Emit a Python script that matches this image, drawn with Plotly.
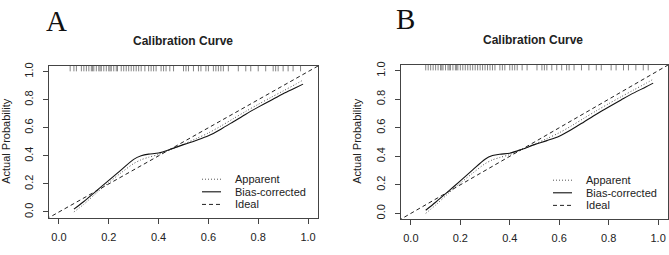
import plotly.graph_objects as go

# ---------------- data ----------------
grid_x = [0.06, 0.10, 0.15, 0.20, 0.25, 0.30, 0.33, 0.36, 0.40, 0.45, 0.50,
          0.55, 0.60, 0.65, 0.70, 0.75, 0.80, 0.85, 0.90, 0.95, 0.98]

apparent_A = [0.000, 0.055, 0.135, 0.210, 0.280, 0.345, 0.372, 0.390, 0.410, 0.445, 0.483,
              0.522, 0.563, 0.612, 0.665, 0.717, 0.767, 0.815, 0.862, 0.910, 0.940]
bias_A = [0.020, 0.075, 0.150, 0.225, 0.300, 0.375, 0.400, 0.412, 0.420, 0.448, 0.480,
          0.510, 0.543, 0.590, 0.643, 0.697, 0.747, 0.795, 0.843, 0.885, 0.911]

apparent_B = [0.000, 0.058, 0.138, 0.212, 0.282, 0.348, 0.375, 0.392, 0.412, 0.447, 0.485,
              0.524, 0.565, 0.614, 0.667, 0.719, 0.769, 0.817, 0.864, 0.911, 0.940]
bias_B = [0.022, 0.078, 0.152, 0.228, 0.305, 0.380, 0.405, 0.415, 0.422, 0.450, 0.482,
          0.510, 0.541, 0.588, 0.641, 0.695, 0.746, 0.795, 0.843, 0.886, 0.913]

ideal_x = [-0.1, 1.1]
ideal_y = [-0.1, 1.1]

rug_A = [0.045, 0.06, 0.07, 0.09, 0.10, 0.11, 0.12, 0.13, 0.135, 0.14, 0.15, 0.16, 0.165,
         0.17, 0.18, 0.19, 0.20, 0.205, 0.21, 0.22, 0.23, 0.235, 0.25, 0.26, 0.27, 0.28,
         0.29, 0.30, 0.31, 0.32, 0.33, 0.345, 0.36, 0.37, 0.38, 0.39, 0.41, 0.42, 0.43,
         0.445, 0.46, 0.50, 0.51, 0.52, 0.54, 0.56, 0.57, 0.59, 0.60, 0.62, 0.63, 0.64,
         0.65, 0.66, 0.68, 0.72, 0.75, 0.77, 0.80, 0.83, 0.86, 0.87, 0.88, 0.90, 0.92,
         0.94, 0.97]
rug_B = [0.06, 0.07, 0.08, 0.09, 0.10, 0.11, 0.12, 0.125, 0.13, 0.14, 0.15, 0.155, 0.16,
         0.17, 0.18, 0.185, 0.19, 0.20, 0.21, 0.22, 0.23, 0.24, 0.25, 0.26, 0.27, 0.28,
         0.29, 0.30, 0.31, 0.32, 0.33, 0.34, 0.36, 0.37, 0.38, 0.40, 0.41, 0.42, 0.43,
         0.45, 0.47, 0.51, 0.53, 0.54, 0.55, 0.57, 0.59, 0.61, 0.63, 0.64, 0.66, 0.69,
         0.72, 0.75, 0.77, 0.81, 0.83, 0.86, 0.88, 0.91, 0.94, 0.96]
RUG_Y = 1.022

tick_vals = [0.0, 0.2, 0.4, 0.6, 0.8, 1.0]
tick_text = ["0.0", "0.2", "0.4", "0.6", "0.8", "1.0"]
legend_labels = ["Apparent", "Bias-corrected", "Ideal"]

# ---------------- styles ----------------
W, H = 669, 255
INK = "#222222"
FONT = "Liberation Sans, Arial, sans-serif"
STY_APP = dict(color="#555555", width=1, dash="1px,2px")
STY_BIAS = dict(color="#111111", width=1.1)
STY_IDEAL = dict(color="#222222", width=1, dash="4px,3px")

panels = [("A", apparent_A, bias_A, rug_A, "x", "y"),
          ("B", apparent_B, bias_B, rug_B, "x2", "y2")]

fig = go.Figure()
for name, app, bias, rug, xa, ya in panels:
    fig.add_trace(go.Scatter(x=rug, y=[RUG_Y] * len(rug), mode="markers", xaxis=xa, yaxis=ya,
                             marker=dict(symbol="line-ns", size=4,
                                         line=dict(color="#666666", width=0.8)),
                             showlegend=False, hoverinfo="skip"))
    fig.add_trace(go.Scatter(x=grid_x, y=app, mode="lines", name=legend_labels[0], xaxis=xa,
                             yaxis=ya, line=dict(shape="spline", smoothing=0.8, **STY_APP),
                             showlegend=False))
    fig.add_trace(go.Scatter(x=grid_x, y=bias, mode="lines", name=legend_labels[1], xaxis=xa,
                             yaxis=ya, line=dict(shape="spline", smoothing=0.8, **STY_BIAS),
                             showlegend=False))
    fig.add_trace(go.Scatter(x=ideal_x, y=ideal_y, mode="lines", name=legend_labels[2],
                             xaxis=xa, yaxis=ya, line=STY_IDEAL, showlegend=False))


def px2fx(p):
    return p / W


def px2fy(p):
    return 1 - p / H


axis_common = dict(range=[-0.04, 1.04], showgrid=False, zeroline=False, showline=True,
                   mirror=True, linecolor="#444444", linewidth=1, ticks="outside",
                   ticklen=5, tickcolor="#444444", tickvals=tick_vals, ticktext=tick_text,
                   tickfont=dict(family=FONT, size=11, color=INK))

fig.update_layout(
    width=W, height=H, margin=dict(l=0, r=0, t=0, b=0),
    paper_bgcolor="white", plot_bgcolor="white", showlegend=False,
    xaxis=dict(domain=[px2fx(49), px2fx(318)], anchor="y", ticklabelstandoff=4, **axis_common),
    yaxis=dict(domain=[px2fy(217), px2fy(63)], anchor="x", tickangle=-90, ticklabelstandoff=6,
               **axis_common),
    xaxis2=dict(domain=[px2fx(401), px2fx(668)], anchor="y2", ticklabelstandoff=4,
                **axis_common),
    yaxis2=dict(domain=[px2fy(218.5), px2fy(62)], anchor="x2", tickangle=-90,
                ticklabelstandoff=6, **axis_common),
)

ann = []
shapes = []
for lab, cx, cy in [("A", 56, 17), ("B", 405, 15)]:
    ann.append(dict(text=lab, x=px2fx(cx), y=px2fy(cy), xref="paper", yref="paper",
                    showarrow=False, xanchor="center", yanchor="middle",
                    font=dict(family="Liberation Serif, Times New Roman, serif", size=29,
                              color="#111111")))
for cx, cy in [(183, 38), (533, 37)]:
    ann.append(dict(text="<b>Calibration Curve</b>", x=px2fx(cx), y=px2fy(cy), xref="paper",
                    yref="paper", showarrow=False, xanchor="center", yanchor="middle",
                    font=dict(family=FONT, size=12, color=INK)))
for cx, cy in [(6, 140), (357, 140)]:
    ann.append(dict(text="Actual Probability", x=px2fx(cx), y=px2fy(cy), xref="paper",
                    yref="paper", showarrow=False, xanchor="center", yanchor="middle",
                    textangle=-90, font=dict(family=FONT, size=11, color=INK)))

# manual legends (R style, compact rows)
for lx0, ly0 in [(202, 178), (553, 179)]:
    for i, (lab, sty) in enumerate(zip(legend_labels, [STY_APP, STY_BIAS, STY_IDEAL])):
        yy = ly0 + i * 12.8
        shapes.append(dict(type="line", xref="paper", yref="paper",
                           x0=px2fx(lx0), x1=px2fx(lx0 + 19), y0=px2fy(yy), y1=px2fy(yy),
                           line=sty))
        ann.append(dict(text=lab, x=px2fx(lx0 + 31), y=px2fy(yy), xref="paper", yref="paper",
                        showarrow=False, xanchor="left", yanchor="middle",
                        font=dict(family=FONT, size=11, color=INK)))

fig.update_layout(annotations=ann, shapes=shapes)

fig.write_html("out.html", config={"displayModeBar": False},
               post_script="document.body.style.margin='0px';"
               "document.body.style.overflow='hidden';")
